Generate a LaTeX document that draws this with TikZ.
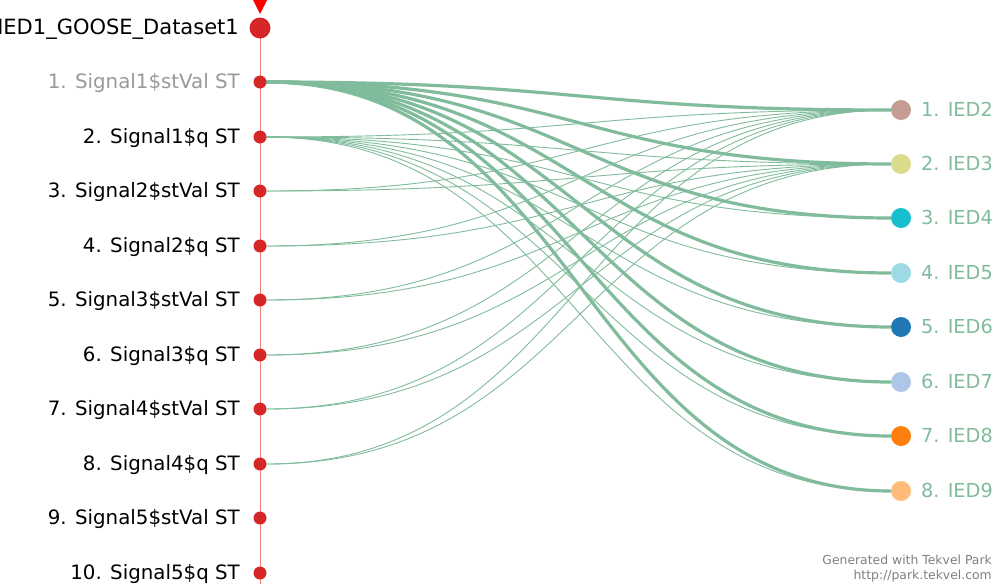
\documentclass[tikz,border=0pt]{standalone}
\usepackage{fontspec}
\setmainfont{DejaVu Sans}
\usetikzlibrary{positioning,backgrounds}
\definecolor{linkgreen}{RGB}{128,187,155}
\definecolor{dotred}{RGB}{214,39,40}
\definecolor{axisred}{RGB}{240,128,128}
\definecolor{iedA}{RGB}{196,156,148}
\definecolor{iedB}{RGB}{219,219,141}
\definecolor{iedC}{RGB}{23,190,207}
\definecolor{iedD}{RGB}{158,218,229}
\definecolor{iedE}{RGB}{31,119,180}
\definecolor{iedF}{RGB}{174,199,232}
\definecolor{iedG}{RGB}{255,127,14}
\definecolor{iedH}{RGB}{255,187,120}

\begin{document}
\begin{tikzpicture}[x=1pt, y=-1pt,
    sig/.style={circle, fill=dotred, inner sep=0pt, minimum size=13pt},
    ied/.style={circle, inner sep=0pt, minimum size=20pt},
    lbl/.style={anchor=east, inner sep=0pt, text height=15pt, text depth=3pt, font=\fontsize{19.8}{22}\selectfont},
    iedlbl/.style={anchor=west, inner sep=0pt, text height=15pt, text depth=3pt, text=linkgreen, font=\fontsize{19.3}{22}\selectfont},
    strong/.style={draw=linkgreen, line width=3.2pt},
    weak/.style={draw=linkgreen, line width=0.9pt},
    foot/.style={anchor=east, inner sep=0pt, text=black!50, font=\fontsize{12.4}{14}\selectfont}
]
\useasboundingbox (0,0) rectangle (993,584);
\clip (0,0) rectangle (993,584);

% axis of the dataset
\coordinate (top) at (260,28);
\coordinate (bot) at (260,584);
\draw[axisred, line width=1pt] (top) -- (bot);
\fill[red] (253,0) -- (267,0) -- (260,14) -- cycle;

\node[circle, fill=dotred, inner sep=0pt, minimum size=21pt] (ds) at (260,28) {};
\node[lbl, font=\fontsize{21}{24}\selectfont, text height=16pt] (dsl) at (239,28) {IED1\_GOOSE\_Dataset1};

% signals
\node[sig] (s1) at (260,82) {};
\node[sig] (s2) at (260,137) {};
\node[sig] (s3) at (260,191) {};
\node[sig] (s4) at (260,246) {};
\node[sig] (s5) at (260,300) {};
\node[sig] (s6) at (260,355) {};
\node[sig] (s7) at (260,409) {};
\node[sig] (s8) at (260,464) {};
\node[sig] (s9) at (260,518) {};
\node[sig] (s10) at (260,573) {};
\node[lbl, text=black!40] (t1) at (240,82) {1. Signal1\$stVal ST};
\node[lbl] (t2) at (240,137) {2. Signal1\$q ST};
\node[lbl] (t3) at (240,191) {3. Signal2\$stVal ST};
\node[lbl] (t4) at (240,246) {4. Signal2\$q ST};
\node[lbl] (t5) at (240,300) {5. Signal3\$stVal ST};
\node[lbl] (t6) at (240,355) {6. Signal3\$q ST};
\node[lbl] (t7) at (240,409) {7. Signal4\$stVal ST};
\node[lbl] (t8) at (240,464) {8. Signal4\$q ST};
\node[lbl] (t9) at (240,518) {9. Signal5\$stVal ST};
\node[lbl] (t10) at (240,573) {10. Signal5\$q ST};

% subscribers
\node[ied, fill=iedA] (d1) at (901,110) {};
\node[ied, fill=iedB] (d2) at (901,164) {};
\node[ied, fill=iedC] (d3) at (901,218) {};
\node[ied, fill=iedD] (d4) at (901,273) {};
\node[ied, fill=iedE] (d5) at (901,327) {};
\node[ied, fill=iedF] (d6) at (901,382) {};
\node[ied, fill=iedG] (d7) at (901,436) {};
\node[ied, fill=iedH] (d8) at (901,491) {};
\node[iedlbl] (u1) at (921,110) {1. IED2};
\node[iedlbl] (u2) at (921,164) {2. IED3};
\node[iedlbl] (u3) at (921,218) {3. IED4};
\node[iedlbl] (u4) at (921,273) {4. IED5};
\node[iedlbl] (u5) at (921,327) {5. IED6};
\node[iedlbl] (u6) at (921,382) {6. IED7};
\node[iedlbl] (u7) at (921,436) {7. IED8};
\node[iedlbl] (u8) at (921,491) {8. IED9};

% links
\begin{scope}[on background layer]
\foreach \j in {1,...,8} {
  \draw[strong] (s1) .. controls +(320,0) and +(-320,0) .. (d\j);
  \draw[weak] (s2) .. controls +(320,0) and +(-320,0) .. (d\j);
}
\foreach \i in {3,...,8} {
  \draw[weak] (s\i) .. controls +(320,0) and +(-320,0) .. (d1);
  \draw[weak] (s\i) .. controls +(320,0) and +(-320,0) .. (d2);
}
\end{scope}

\node[foot] (g1) at (992,560) {Generated with Tekvel Park};
\node[foot] (g2) at (992,576) {http://park.tekvel.com};
\end{tikzpicture}
\end{document}
